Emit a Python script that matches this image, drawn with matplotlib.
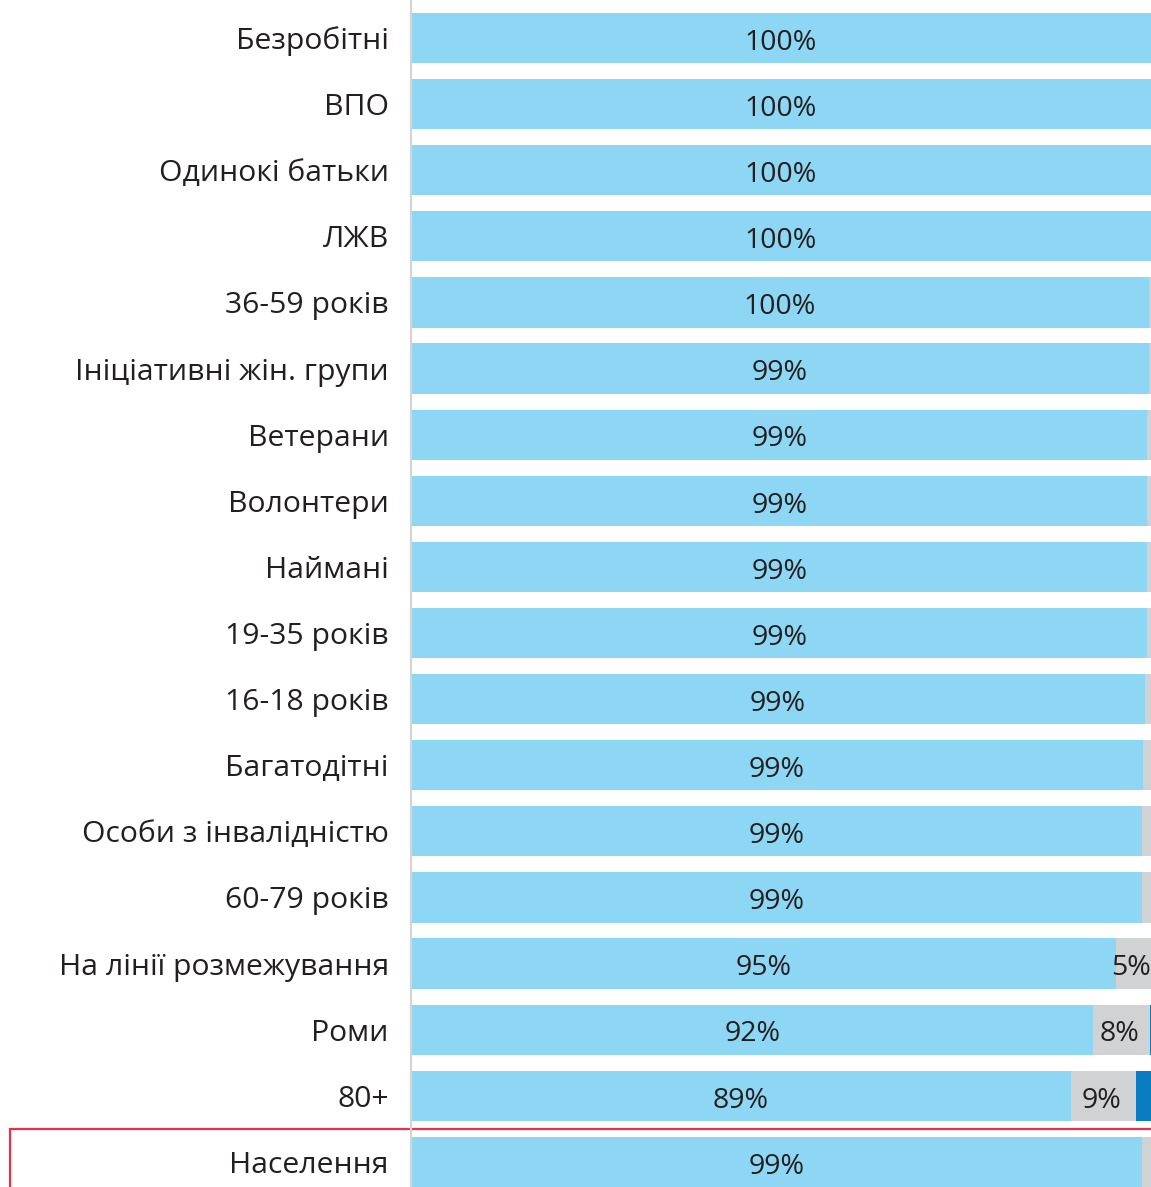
import matplotlib
matplotlib.use("Agg")
import matplotlib.pyplot as plt
from matplotlib.patches import Rectangle

plt.rcParams['font.family'] = ['Open Sans', 'DejaVu Sans']

categories = ["Безробітні", "ВПО", "Одинокі батьки", "ЛЖВ", "36-59 років",
              "Ініціативні жін. групи", "Ветерани", "Волонтери", "Наймані",
              "19-35 років", "16-18 років", "Багатодітні", "Особи з інвалідністю",
              "60-79 років", "На лінії розмежування", "Роми", "80+", "Населення"]
light = [100, 100, 100, 100, 99.7, 99.7, 99.5, 99.5, 99.5, 99.5, 99.2, 98.9,
         98.8, 98.8, 95.3, 92.2, 89.2, 98.8]
gray = [0, 0, 0, 0, 0.3, 0.3, 0.5, 0.5, 0.5, 0.5, 0.8, 1.1, 1.2, 1.2, 4.7, 7.6, 8.8, 1.2]
dark = [0, 0, 0, 0, 0, 0, 0, 0, 0, 0, 0, 0, 0, 0, 0, 0.2, 2.0, 0]
light_labels = ["100%", "100%", "100%", "100%", "100%", "99%", "99%", "99%", "99%",
                "99%", "99%", "99%", "99%", "99%", "95%", "92%", "89%", "99%"]
gray_labels = ["", "", "", "", "", "", "", "", "", "", "", "", "", "", "5%", "8%", "9%", ""]

C_LIGHT = "#8dd7f5"
C_GRAY = "#d1d2d4"
C_DARK = "#0a7dc2"
C_TEXT = "#231f20"

W, H = 1151, 1187
fig = plt.figure(figsize=(W / 100, H / 100), dpi=100)
fig.patch.set_facecolor("white")

# red highlight box around the last row
rect = Rectangle((9.5 / W, -0.02), 1.05, (1 - 1128.5 / H) + 0.02,
                 transform=fig.transFigure, fill=False, edgecolor="#e8304d",
                 linewidth=1.6, zorder=0)
fig.patches.append(rect)

ax = fig.add_axes([411 / W, 0, 740 / W, 1])
ax.set_facecolor("none")
ax.set_zorder(1)

y = list(range(len(categories)))
h = 0.76
ax.barh(y, light, height=h, color=C_LIGHT, zorder=2)
ax.barh(y, gray, left=light, height=h, color=C_GRAY, zorder=2)
left3 = [a + b for a, b in zip(light, gray)]
ax.barh(y, dark, left=left3, height=h, color=C_DARK, zorder=2)

for i in y:
    ax.text(light[i] / 2, i + 0.02, light_labels[i], ha="center", va="center_baseline",
            fontsize=20.5, color=C_TEXT, zorder=3)
    if gray_labels[i]:
        ax.text(light[i] + gray[i] / 2 - 0.3, i + 0.02, gray_labels[i], ha="center",
                va="center_baseline", fontsize=20.5, color=C_TEXT, zorder=3)

ax.set_xlim(0, 100)
ax.set_ylim(17.38, -0.575)
ax.set_yticks(y)
ax.set_yticklabels(categories, fontsize=21.7, color=C_TEXT)
ax.tick_params(axis="y", length=0, pad=16)
ax.set_xticks([])
for s in ["top", "right", "bottom"]:
    ax.spines[s].set_visible(False)
ax.spines["left"].set_color("#d4d4d4")
ax.spines["left"].set_linewidth(1.6)
ax.spines["left"].set_zorder(4)

fig.savefig("out.png", dpi=100, facecolor="white")
